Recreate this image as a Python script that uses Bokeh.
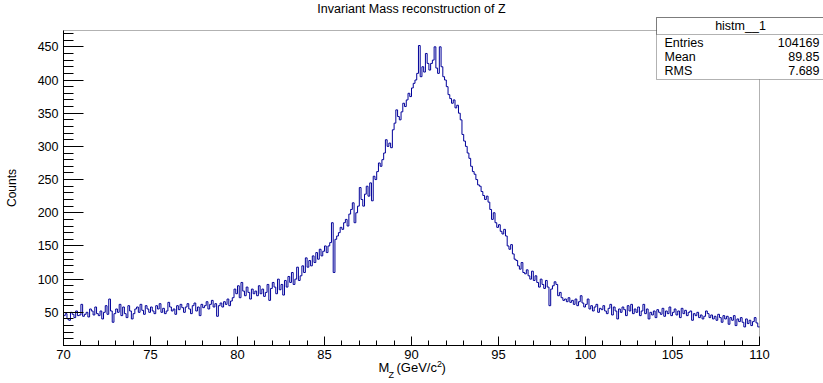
import numpy as np
from bokeh.plotting import figure
from bokeh.models import Range1d, SingleIntervalTicker, Label, BoxAnnotation
from bokeh.embed import file_html
from bokeh.resources import INLINE

# ---------------- data ----------------
x_min, x_max = 70.0, 110.0
n_bins = 400
counts = [
    45, 48, 40, 38, 50, 47, 42, 52, 45, 46,        # 70-71
    62, 44, 47, 50, 43, 55, 52, 46, 58, 48,        # 71-72
    45, 52, 40, 50, 60, 47, 70, 52, 35, 48,        # 72-73
    55, 50, 62, 45, 58, 48, 42, 60, 52, 40,        # 73-74
    48, 55, 58, 50, 62, 53, 47, 60, 55, 50,        # 74-75
    58, 52, 48, 60, 55, 63, 50, 56, 48, 52,        # 75-76
    65, 58, 52, 55, 47, 60, 54, 62, 57, 50,        # 76-77
    58, 63, 55, 48, 60, 64, 52, 58, 45, 62,        # 77-78
    57, 60, 66, 55, 62, 68, 58, 63, 44, 60,        # 78-79
    64, 58, 66, 62, 70, 60, 67, 72, 85, 78,        # 79-80
    90, 72, 95, 82, 75, 88, 80, 70, 85, 78,        # 80-81
    82, 75, 90, 78, 85, 74, 80, 92, 68, 86,        # 81-82
    95, 88, 78, 100, 84, 92, 76, 98, 88, 104,      # 82-83
    95, 110, 92, 100, 118, 98, 105, 120, 110, 132, # 83-84
    118, 128, 120, 135, 125, 140, 130, 145, 135, 142,  # 84-85
    150, 140, 150, 155, 185, 110, 160, 165, 170, 178,  # 85-86
    175, 185, 190, 180, 198, 205, 215, 185, 200, 210,  # 86-87
    238, 220, 210, 228, 240, 225, 245, 218, 255, 250,  # 87-88
    262, 275, 270, 280, 290, 310, 300, 305, 298, 325,  # 88-89
    335, 355, 345, 340, 352, 365, 360, 370, 380, 375,  # 89-90
    388, 395, 400, 410, 452, 405, 420, 412, 440, 425,  # 90-91
    415, 425, 430, 450, 418, 410, 450, 420, 405, 400,  # 91-92
    390, 378, 372, 365, 370, 358, 362, 350, 340, 318,  # 92-93
    308, 300, 290, 282, 270, 262, 258, 250, 242, 240,  # 93-94
    232, 226, 220, 225, 216, 205, 190, 200, 185, 178,  # 94-95
    182, 172, 168, 175, 165, 150, 145, 152, 138, 130,  # 95-96
    128, 120, 115, 125, 110, 108, 114, 105, 100, 112,  # 96-97
    98, 105, 95, 88, 100, 92, 86, 98, 88, 60,          # 97-98
    85, 90, 96, 92, 75, 80, 72, 68, 70, 66,            # 98-99
    72, 65, 68, 62, 70, 60, 66, 75, 64, 58,            # 99-100
    62, 70, 55, 60, 52, 58, 62, 50, 56, 54,            # 100-101
    60, 52, 48, 56, 62, 46, 58, 52, 40, 55,            # 101-102
    50, 58, 54, 45, 60, 52, 62, 48, 55, 50,            # 102-103
    58, 45, 52, 62, 48, 55, 40, 50, 46, 52,            # 103-104
    42, 54, 50, 47, 56, 44, 52, 48, 58, 45,            # 104-105
    50, 55, 46, 52, 42, 56, 48, 53, 45, 50,            # 105-106
    52, 38, 48, 45, 50, 42, 46, 40, 44, 52,            # 106-107
    48, 42, 46, 40, 44, 38, 47, 42, 35, 45,            # 107-108
    40, 44, 32, 42, 38, 45, 30, 40, 36, 42,            # 108-109
    35, 28, 40, 33, 38, 30, 36, 42, 34, 28,            # 109-110
]
title_text = "Invariant Mass reconstruction of Z"
y_label = "Counts"
stats_name = "histm__1"
stat_names = ["Entries", "Mean", "RMS"]
stat_values = ["104169", "89.85", "7.689"]

# ---------------- layout constants (pixels) ----------------
W, H = 823, 383
FR_L, FR_R, FR_T, FR_B = 63, 759, 30, 345   # visible plot frame
FONT = "Liberation Sans"
y_top = max(counts) * 1.05

sx = (FR_R - FR_L) / (x_max - x_min)
sy = (FR_B - FR_T) / y_top
def dx_(px):
    return x_min + (px - FR_L) / sx
def dy_(py):
    return (FR_B - py) / sy

# the Bokeh frame covers the whole canvas so that outer texts are not clipped;
# axes are pinned at the visible frame edges.
p = figure(width=W, height=H, output_backend="svg", toolbar_location=None,
           x_range=Range1d(dx_(0), dx_(W)), y_range=Range1d(dy_(H), dy_(0)),
           min_border=0)
p.background_fill_color = "white"
p.border_fill_color = "white"
p.outline_line_color = None
p.xgrid.visible = False
p.ygrid.visible = False

edges = np.linspace(x_min, x_max, n_bins + 1)
ys = list(counts) + [counts[-1]]
p.step(edges, ys, mode="after", line_color="#000099", line_width=1)

# visible frame
p.add_layout(BoxAnnotation(left=x_min, right=x_max, bottom=0, top=y_top,
                           fill_alpha=0, line_color="black", line_width=1, level="overlay"))

# axes
xa = p.xaxis[0]
xa.fixed_location = 0
xa.bounds = (x_min, x_max)
xa.ticker = SingleIntervalTicker(interval=5, num_minor_ticks=5)
xa.major_tick_in = 9
xa.major_tick_out = 0
xa.minor_tick_in = 5
xa.minor_tick_out = 0
xa.axis_line_color = "black"
xa.major_label_text_font = FONT
xa.major_label_text_font_size = "13px"
xa.major_label_text_color = "black"
xa.major_label_standoff = 4

ya = p.yaxis[0]
ya.fixed_location = x_min
ya.bounds = (0, y_top)
ya.ticker = SingleIntervalTicker(interval=50, num_minor_ticks=5)
ya.major_tick_in = 20
ya.major_tick_out = 0
ya.minor_tick_in = 10
ya.minor_tick_out = 0
ya.axis_line_color = "black"
ya.major_label_text_font = FONT
ya.major_label_text_font_size = "12.5px"
ya.major_label_text_color = "black"
ya.major_label_standoff = 5
ya.major_label_overrides = {0: ""}
ya.axis_label = y_label
ya.axis_label_text_font = FONT
ya.axis_label_text_font_size = "12px"
ya.axis_label_text_font_style = "normal"
ya.axis_label_text_color = "black"
ya.axis_label_standoff = 16

def add_label(text, px, py, size, align="left"):
    p.add_layout(Label(x=dx_(px), y=dy_(py), text=text,
                       text_font=FONT, text_font_size=size,
                       text_color="black", text_align=align,
                       text_baseline="middle", level="overlay"))

# x-axis title with subscript / superscript
add_label("M", 378, 367, "13px")
add_label("Z", 388, 374, "9px")
add_label("(GeV/c", 396, 367, "13px")
add_label("2", 436.5, 363, "9px")
add_label(")", 441, 367, "13px")

# title
add_label(title_text, 411, 8, "12.5px", align="center")

# stats box
p.add_layout(BoxAnnotation(left=dx_(656), right=dx_(W + 10), top=dy_(17), bottom=dy_(79),
                           fill_color="white", fill_alpha=1, line_color="black",
                           line_width=1, level="overlay"))
p.add_layout(BoxAnnotation(left=dx_(656), right=dx_(W + 10), top=dy_(17), bottom=dy_(34),
                           fill_alpha=0, line_color="black", line_width=1, level="overlay"))
add_label(stats_name, 740, 25, "12.5px", align="center")
for i, (n, v) in enumerate(zip(stat_names, stat_values)):
    py = 42 + i * 14
    add_label(n, 664, py, "12.5px", align="left")
    add_label(v, 819, py, "12.5px", align="right")

open("out.html", "w").write(file_html(p, INLINE))
